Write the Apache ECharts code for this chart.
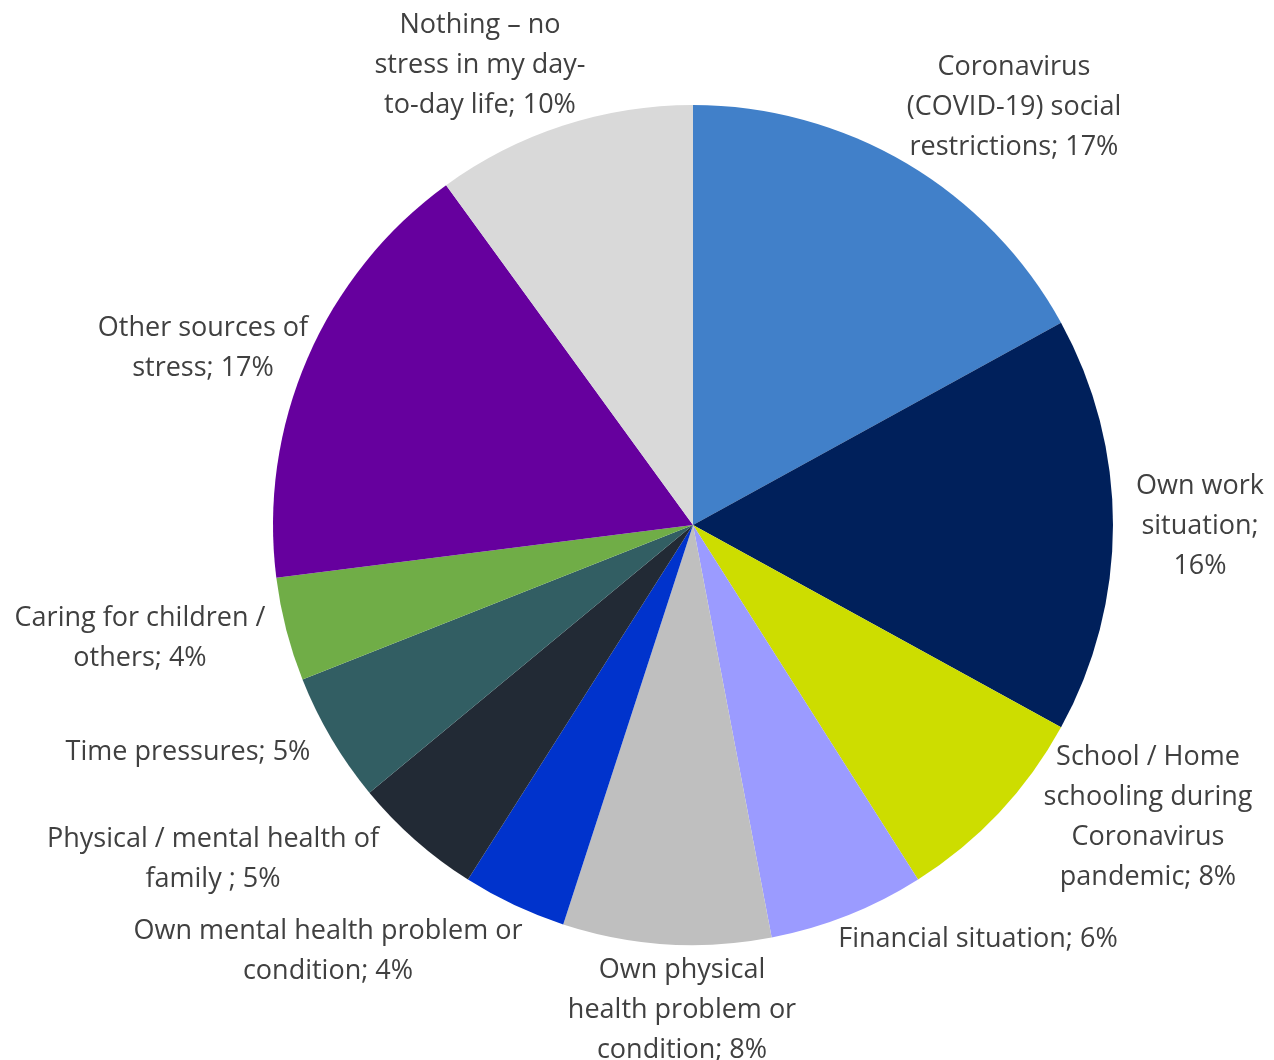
<!DOCTYPE html>
<html>
<head>
<meta charset="utf-8">
<title>Sources of stress</title>
<script src="https://cdn.jsdelivr.net/npm/echarts@6/dist/echarts.min.js"></script>
<style>
  html, body { margin: 0; padding: 0; background: #ffffff; }
  #chart { width: 1274px; height: 1060px; }
</style>
</head>
<body>
<div id="chart"></div>
<script>
// Main sources of stress in day-to-day life (share of respondents, %)
const categories = [
  'Coronavirus\n(COVID-19) social\nrestrictions',
  'Own work\nsituation',
  'School / Home\nschooling during\nCoronavirus\npandemic',
  'Financial situation',
  'Own physical\nhealth problem or\ncondition',
  'Own mental health problem or\ncondition',
  'Physical / mental health of\nfamily ',
  'Time pressures',
  'Caring for children /\nothers',
  'Other sources of\nstress',
  'Nothing \u2013 no\nstress in my day-\nto-day life'
];
const values = [17, 16, 8, 6, 8, 4, 5, 5, 4, 17, 10];
// separator between the name and the percentage in each label
const labelSep = [' ', '\n', ' ', ' ', ' ', ' ', ' ', ' ', ' ', ' ', ' '];

const colors = [
  '#4180C9', '#00205B', '#CDDD00', '#9B9BFF', '#BFBFBF', '#0033CC',
  '#222A35', '#325E63', '#70AD47', '#66009E', '#D9D9D9'
];

// pie geometry
const pieCenter = [693, 525];
const pieRadius = 420;
// where each label block sits, relative to the pie centre
const labelOffsets = [
  [321, -418], [507, 1], [455, 292], [285, 414], [-11, 485], [-365, 426],
  [-480, 334], [-505, 227], [-553, 113], [-490, -177], [-213, -460]
];

const chart = echarts.init(document.getElementById('chart'), null, { renderer: 'canvas' });

chart.setOption({
  backgroundColor: '#ffffff',
  animation: false,
  series: [{
    type: 'pie',
    center: pieCenter,
    radius: pieRadius,
    startAngle: 90,
    clockwise: true,
    avoidLabelOverlap: false,
    silent: true,
    data: categories.map((name, i) => ({
      name: name,
      value: values[i],
      itemStyle: { color: colors[i] }
    })),
    itemStyle: { borderWidth: 0 },
    label: {
      show: true,
      position: 'outside',
      formatter: p => p.name + ';' + labelSep[p.dataIndex] + p.value + '%',
      color: '#404040',
      fontFamily: '"Open Sans", Lato, sans-serif',
      fontSize: 27,
      lineHeight: 40,
      align: 'center'
    },
    labelLine: { show: false },
    labelLayout: params => {
      const o = labelOffsets[params.dataIndex];
      return {
        x: pieCenter[0] + o[0],
        y: pieCenter[1] + o[1],
        align: 'center',
        verticalAlign: 'middle'
      };
    },
    emphasis: { disabled: true }
  }]
});
</script>
</body>
</html>
